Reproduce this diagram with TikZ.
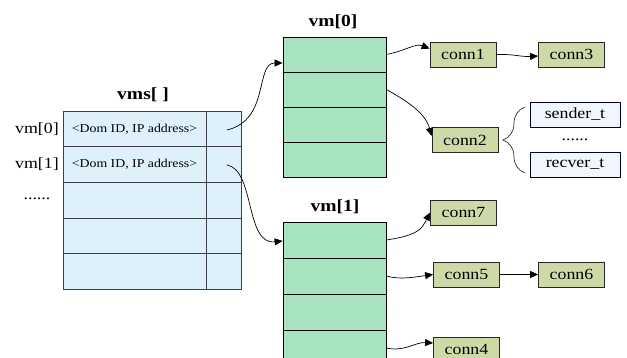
\documentclass[tikz,border=0pt]{standalone}
\usepackage{fontspec}
\setmainfont[FakeStretch=1.15]{Liberation Serif}
\usetikzlibrary{arrows.meta,decorations.pathreplacing}

\definecolor{vmsfill}{RGB}{222,241,251}
\definecolor{vmfill}{RGB}{168,228,192}
\definecolor{connfill}{RGB}{205,218,168}
\definecolor{fieldfill}{RGB}{241,245,252}
\definecolor{gridline}{RGB}{60,64,70}

\begin{document}
\begin{tikzpicture}[x=1pt,y=-1pt,
  vmsrow/.style={draw=gridline,fill=vmsfill,line width=0.8pt,minimum width=178pt,minimum height=35.6pt,inner sep=0pt},
  vmrow/.style={draw=black,fill=vmfill,line width=0.8pt,minimum width=103pt,inner sep=0pt},
  connbox/.style={draw=black!85,fill=connfill,line width=0.8pt,minimum width=66pt,minimum height=25pt,inner sep=0pt,font=\fontsize{15.5}{17}\selectfont},
  fieldbox/.style={draw=black!80!blue,fill=fieldfill,line width=0.8pt,minimum width=90pt,minimum height=25pt,inner sep=0pt,font=\fontsize{15.5}{17}\selectfont},
  title/.style={font=\fontsize{17}{19}\selectfont\bfseries},
  label/.style={font=\fontsize{15.5}{17}\selectfont},
  entry/.style={font=\fontsize{12}{14}\selectfont},
  link/.style={-{Triangle[length=8pt,width=7pt]},line width=0.7pt,black}]

\clip (0,0) rectangle (627,358);
\fill[white] (0,0) rectangle (627,358);

% vms[] table
\node[title] (vmstitle) at (143,95) {vms[ ]};
\node[vmsrow] (vms0) at (152,129) {};
\node[vmsrow] (vms1) at (152,164.6) {};
\node[vmsrow] (vms2) at (152,200.2) {};
\node[vmsrow] (vms3) at (152,235.8) {};
\node[vmsrow] (vms4) at (152,271.4) {};
\draw[gridline,line width=0.8pt] (206,111.2) -- (206,289.2);
\node[entry] (dom0) at (134.5,129) {<Dom ID, IP address>};
\node[entry] (dom1) at (134.5,164.6) {<Dom ID, IP address>};
\node[label] (lab0) at (37,129) {vm[0]};
\node[label] (lab1) at (37,164) {vm[1]};
\node[label] (labdots) at (37,199) {......};
\coordinate (ptr0) at (227,130);
\coordinate (ptr1) at (227,165);

% vm[0] table
\node[title] (vm0title) at (333,22) {vm[0]};
\node[vmrow,minimum height=35pt] (a0) at (334.5,54.5) {};
\node[vmrow,minimum height=35pt] (a1) at (334.5,89.5) {};
\node[vmrow,minimum height=35pt] (a2) at (334.5,124.5) {};
\node[vmrow,minimum height=35pt] (a3) at (334.5,159.5) {};

% vm[1] table
\node[title] (vm1title) at (335,207) {vm[1]};
\node[vmrow,minimum height=36pt] (b0) at (334.5,240) {};
\node[vmrow,minimum height=36pt] (b1) at (334.5,276) {};
\node[vmrow,minimum height=36pt] (b2) at (334.5,312) {};
\node[vmrow,minimum height=36pt] (b3) at (334.5,348) {};

% connections
\node[connbox] (conn1) at (463,54.5) {conn1};
\node[connbox] (conn3) at (571.5,54.5) {conn3};
\node[connbox] (conn2) at (465,140) {conn2};
\node[connbox] (conn7) at (463.5,212.5) {conn7};
\node[connbox] (conn5) at (466.5,274.5) {conn5};
\node[connbox] (conn6) at (571.5,274.5) {conn6};
\node[connbox] (conn4) at (466.5,349.5) {conn4};

% fields of conn2
\node[fieldbox] (sender) at (575,114.5) {sender\_t};
\node[fieldbox] (recver) at (575,164.5) {recver\_t};
\node[label] (fielddots) at (575,140) {......};
\draw[decorate,decoration={brace,amplitude=22pt},line width=0.7pt,black!80] (525,173) -- (525,107);

% pointers
\draw[link] (ptr0) .. controls (270,120) and (255,63) .. (a0.west |- 0,63);
\draw[link] (ptr1) .. controls (255,170) and (245,245) .. (b0.west |- 0,241);
\draw[link] (a0.east) .. controls (408,50) and (415,43) .. (conn1.170);
\draw[link] (a1.east) .. controls (405,100) and (425,112) .. (conn2.173);
\draw[link] (conn1.east) .. controls (515,54) and (520,57) .. (conn3.west |- 0,56);
\draw[link] (b0.east) .. controls (420,235) and (422,228) .. (conn7.west);
\draw[link] (b1.east) .. controls (400,280) and (415,277) .. (conn5.west);
\draw[link] (conn5) -- (conn6);
\draw[link] (b3.east) .. controls (405,352) and (415,342) .. (conn4.169);
\end{tikzpicture}
\end{document}
